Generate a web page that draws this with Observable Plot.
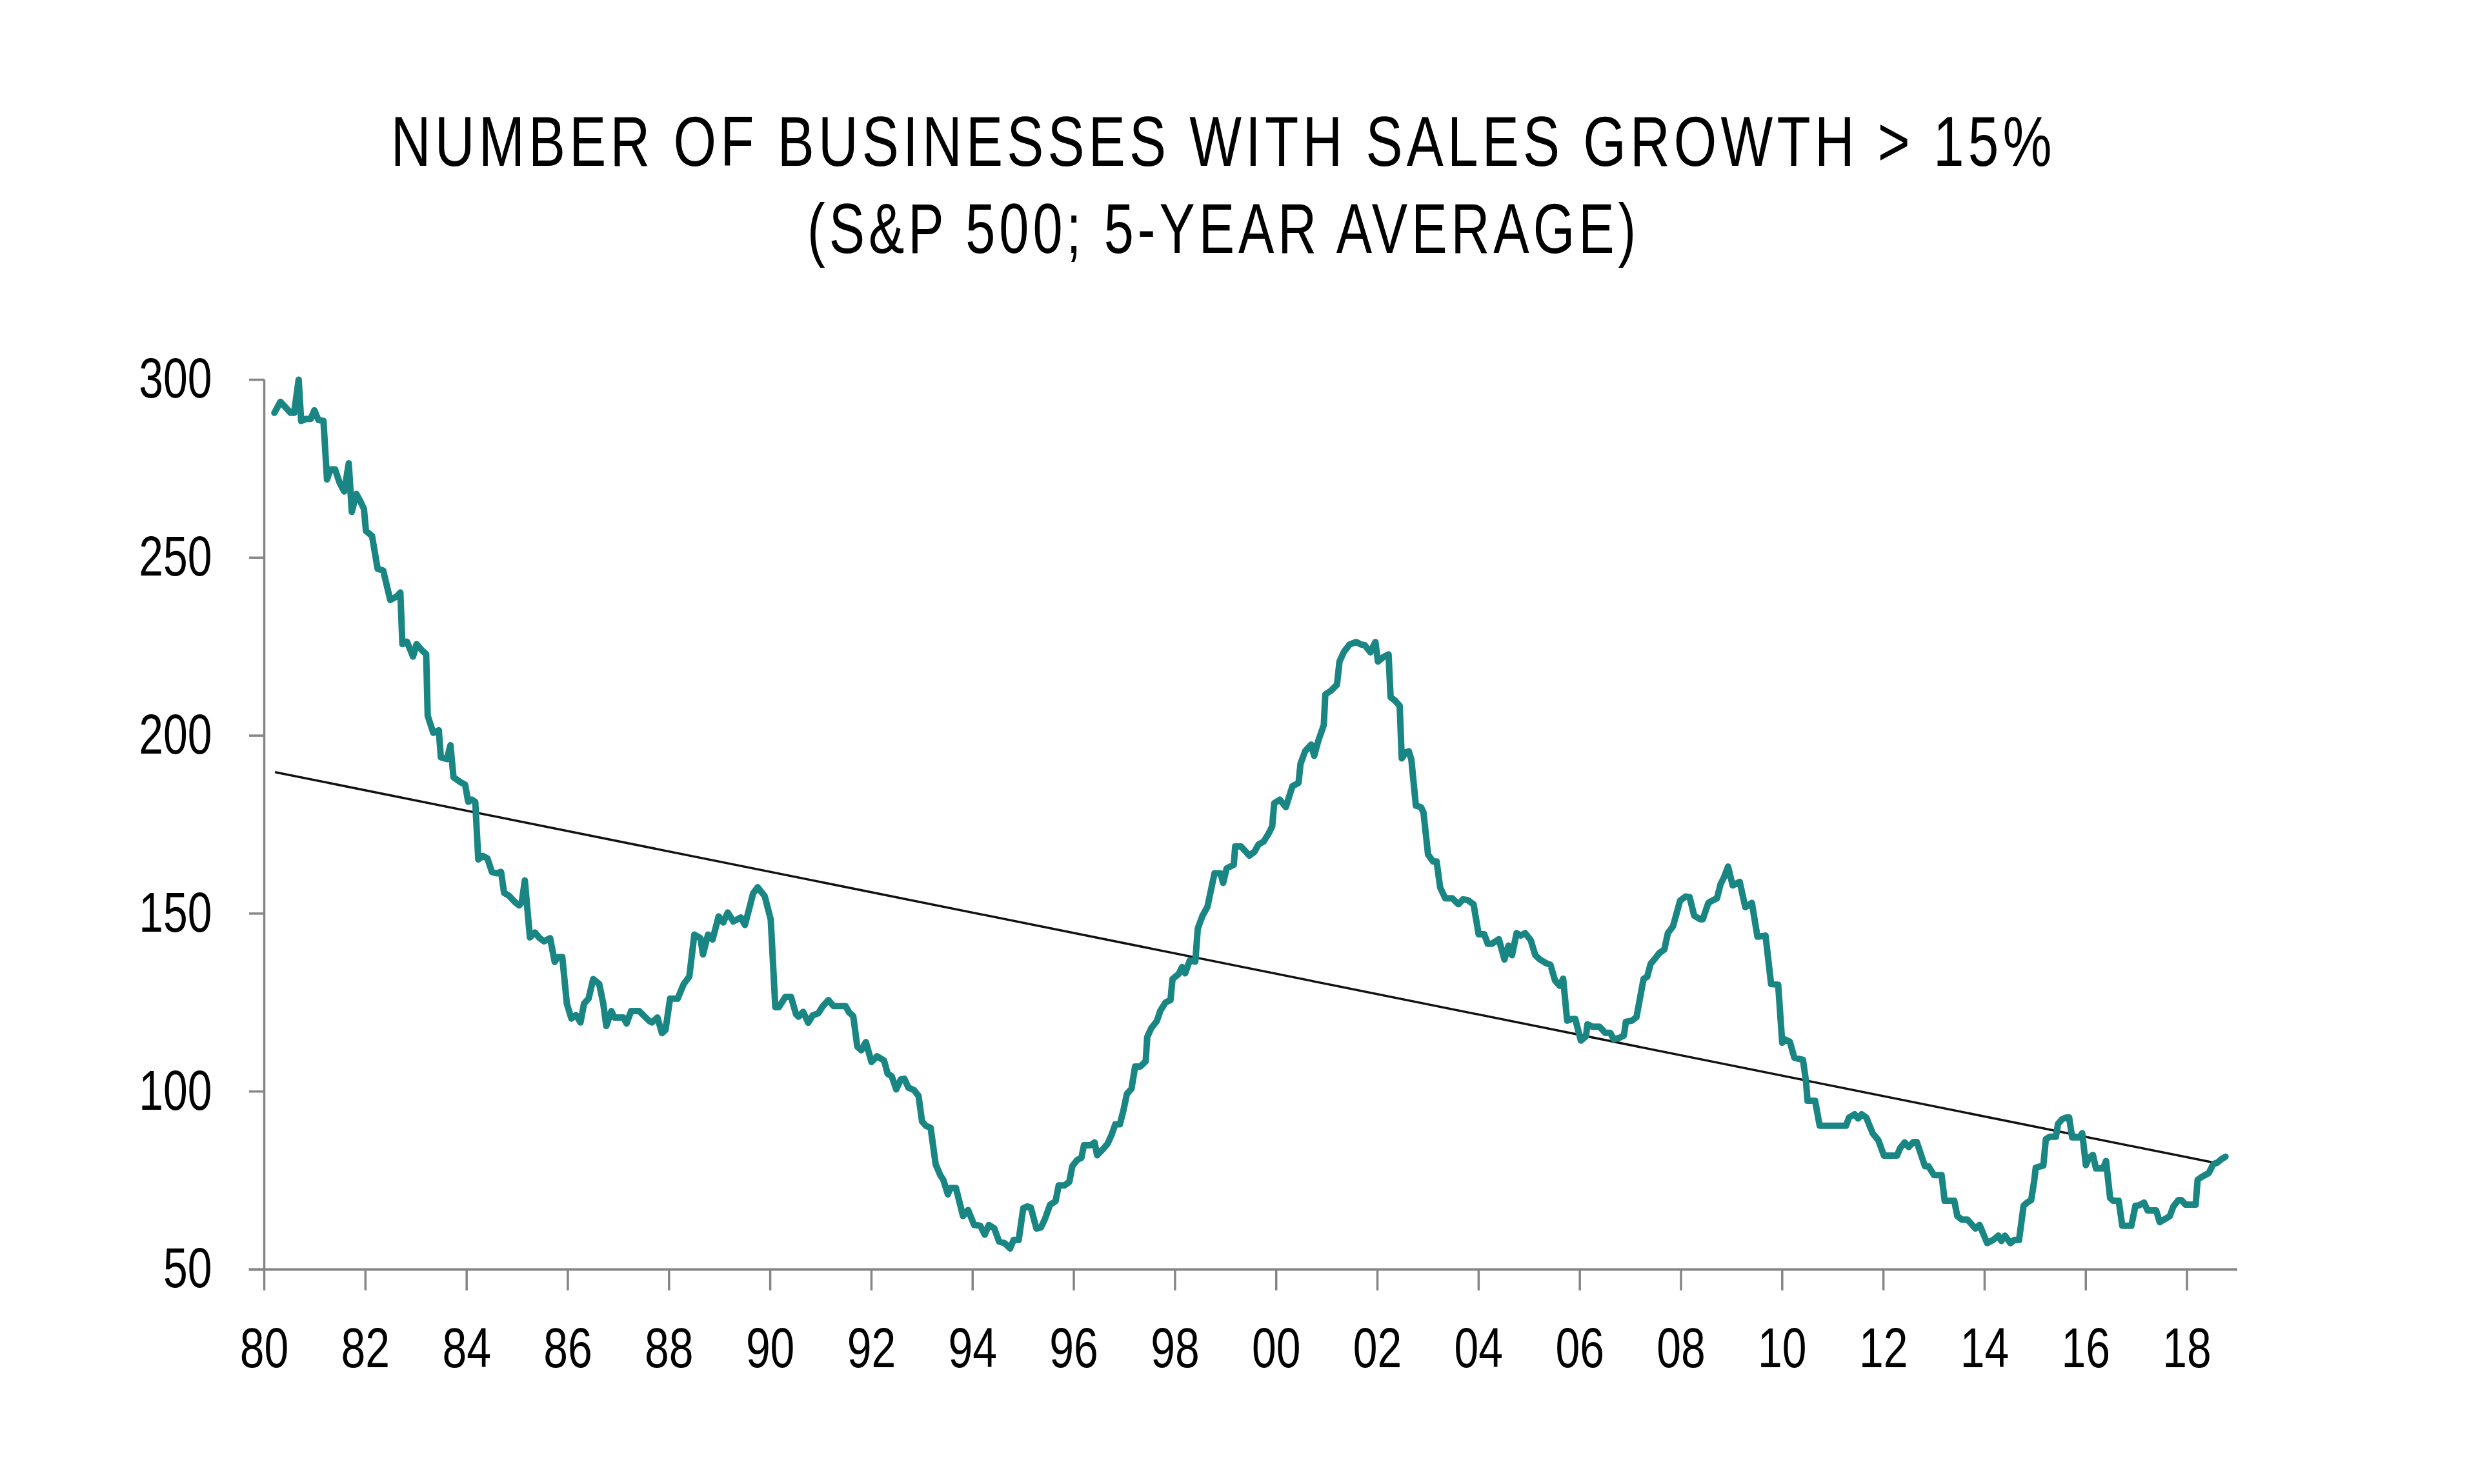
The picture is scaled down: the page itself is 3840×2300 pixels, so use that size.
<!DOCTYPE html>
<html>
<head>
<meta charset="utf-8">
<script src="https://cdn.jsdelivr.net/npm/d3@7"></script>
<script src="https://cdn.jsdelivr.net/npm/@observablehq/plot@0.6"></script>
<style>
  html, body { margin: 0; padding: 0; background: #ffffff; }
  #wrap { position: relative; width: 3840px; height: 420px; }
  .title { position: absolute; left: 0; width: 3792px; text-align: center;
           font-family: "Liberation Sans", Arial, sans-serif; letter-spacing: 8px;
           font-size: 110px; line-height: 110px; color: #000; white-space: nowrap; }
  .title span { display: inline-block; transform-origin: 50% 50%; }
  #t1 { top: 164px; }
  #t2 { top: 299px; }
</style>
</head>
<body>
<div id="wrap">
  <div class="title" id="t1"><span>NUMBER OF BUSINESSES WITH SALES GROWTH &gt; 15%</span></div>
  <div class="title" id="t2"><span>(S&amp;P 500; 5-YEAR AVERAGE)</span></div>
</div>
<div id="chart"></div>
<script>
// Year (decimal) of each observation
const dates = [
  1980.20,1980.32,1980.52,1980.59,1980.68,1980.73,1980.83,1980.92,1980.99,1981.07,
  1981.17,1981.24,1981.31,1981.40,1981.49,1981.58,1981.67,1981.73,1981.82,1981.89,
  1981.97,1982.01,1982.13,1982.24,1982.35,1982.49,1982.62,1982.69,1982.73,1982.82,
  1982.94,1983.01,1983.12,1983.20,1983.23,1983.34,1983.45,1983.49,1983.61,1983.68,
  1983.74,1983.88,1983.97,1984.03,1984.10,1984.17,1984.23,1984.32,1984.41,1984.50,
  1984.59,1984.68,1984.74,1984.83,1984.95,1985.04,1985.09,1985.15,1985.25,1985.35,
  1985.44,1985.53,1985.65,1985.74,1985.80,1985.89,1985.98,1986.07,1986.16,1986.25,
  1986.32,1986.41,1986.50,1986.62,1986.70,1986.76,1986.86,1986.92,1987.10,1987.16,
  1987.25,1987.41,1987.61,1987.66,1987.77,1987.86,1987.93,1988.02,1988.17,1988.29,
  1988.40,1988.50,1988.62,1988.67,1988.77,1988.86,1988.98,1989.07,1989.16,1989.27,
  1989.42,1989.50,1989.59,1989.66,1989.75,1989.89,1990.01,1990.10,1990.17,1990.30,
  1990.41,1990.51,1990.56,1990.65,1990.75,1990.84,1990.95,1991.04,1991.15,1991.25,
  1991.49,1991.56,1991.64,1991.72,1991.80,1991.89,1992.00,1992.11,1992.25,1992.32,
  1992.40,1992.49,1992.58,1992.65,1992.73,1992.84,1992.93,1993.00,1993.08,1993.17,
  1993.27,1993.36,1993.42,1993.51,1993.56,1993.67,1993.81,1993.91,1994.03,1994.15,
  1994.24,1994.32,1994.43,1994.52,1994.63,1994.74,1994.81,1994.91,1995.00,1995.08,
  1995.15,1995.26,1995.35,1995.43,1995.53,1995.64,1995.70,1995.81,1995.91,1995.97,
  1996.06,1996.15,1996.20,1996.33,1996.41,1996.46,1996.57,1996.67,1996.75,1996.82,
  1996.91,1996.98,1997.05,1997.14,1997.21,1997.31,1997.42,1997.45,1997.53,1997.64,
  1997.71,1997.81,1997.91,1997.95,1998.07,1998.14,1998.20,1998.29,1998.40,1998.45,
  1998.54,1998.64,1998.78,1998.90,1998.95,1999.02,1999.16,1999.19,1999.30,1999.47,
  1999.57,1999.65,1999.75,1999.85,1999.92,1999.96,2000.07,2000.19,2000.32,2000.44,
  2000.48,2000.57,2000.69,2000.75,2000.83,2000.94,2000.97,2001.08,2001.20,2001.25,
  2001.34,2001.45,2001.58,2001.68,2001.75,2001.86,2001.96,2002.01,2002.12,2002.22,
  2002.26,2002.35,2002.44,2002.48,2002.56,2002.62,2002.67,2002.76,2002.86,2002.91,
  2003.00,2003.10,2003.17,2003.24,2003.34,2003.48,2003.60,2003.69,2003.78,2003.90,
  2004.00,2004.11,2004.18,2004.26,2004.40,2004.51,2004.59,2004.66,2004.75,2004.83,
  2004.92,2005.03,2005.12,2005.21,2005.33,2005.42,2005.51,2005.60,2005.67,2005.75,
  2005.84,2005.91,2006.02,2006.12,2006.15,2006.25,2006.39,2006.50,2006.60,2006.67,
  2006.77,2006.87,2006.91,2007.03,2007.12,2007.19,2007.26,2007.33,2007.40,2007.50,
  2007.57,2007.67,2007.74,2007.84,2007.91,2007.98,2008.09,2008.17,2008.26,2008.38,
  2008.43,2008.54,2008.64,2008.71,2008.78,2008.85,2008.93,2009.02,2009.16,2009.27,
  2009.40,2009.51,2009.67,2009.78,2009.92,2010.00,2010.06,2010.15,2010.24,2010.41,
  2010.47,2010.50,2010.65,2010.74,2011.26,2011.32,2011.43,2011.50,2011.57,2011.66,
  2011.79,2011.90,2012.01,2012.27,2012.33,2012.42,2012.50,2012.59,2012.66,2012.82,
  2012.89,2013.00,2013.15,2013.21,2013.40,2013.46,2013.55,2013.66,2013.82,2013.90,
  2014.05,2014.17,2014.27,2014.33,2014.40,2014.51,2014.59,2014.68,2014.77,2014.84,
  2014.92,2014.98,2015.01,2015.16,2015.21,2015.29,2015.41,2015.45,2015.53,2015.61,
  2015.67,2015.73,2015.87,2015.93,2016.00,2016.06,2016.14,2016.20,2016.34,2016.40,
  2016.48,2016.54,2016.65,2016.72,2016.90,2016.98,2017.05,2017.15,2017.22,2017.39,
  2017.46,2017.57,2017.66,2017.73,2017.83,2017.89,2017.97,2018.17,2018.21,2018.30,
  2018.43,2018.52,2018.61,2018.67,2018.76
];

// Number of businesses with sales growth > 15% (S&P 500, 5-year average)
const counts = [
  290.7,293.8,290.7,290.7,300.0,288.4,289.0,289.0,291.4,288.7,
  288.4,272.0,274.8,274.8,271.0,268.6,276.5,262.9,267.9,266.1,
  263.7,257.5,256.1,246.9,246.4,238.1,239.1,240.2,225.7,226.4,
  222.2,225.7,223.9,222.9,205.6,200.8,201.5,193.9,193.4,197.3,
  188.3,186.9,186.2,181.4,182.0,181.4,165.2,166.2,165.5,161.7,
  161.3,161.7,155.8,155.1,153.3,152.3,153.3,159.3,143.3,144.7,
  143.1,142.2,143.1,136.4,137.8,137.8,124.7,120.5,121.5,119.4,
  124.7,126.1,131.6,130.2,124.7,118.4,122.6,120.8,120.8,119.1,
  122.6,122.6,119.8,119.4,120.8,116.4,117.3,126.1,126.1,130.2,
  132.3,144.1,143.1,138.5,144.1,142.7,149.2,147.5,150.3,147.8,
  148.9,146.8,151.7,155.6,157.4,154.9,148.3,123.7,123.7,126.6,
  126.6,121.7,121.0,122.4,119.3,121.4,122.0,124.0,125.7,124.0,
  124.0,122.2,121.2,112.6,111.6,113.9,108.3,109.9,108.7,105.0,
  104.3,100.6,103.4,103.6,101.1,100.4,98.8,91.6,90.3,89.8,
  79.5,76.5,75.2,71.1,72.9,72.9,65.0,66.7,62.5,62.3,
  59.8,62.5,61.5,57.9,57.4,55.9,58.3,58.3,67.2,67.7,
  67.4,61.5,61.8,64.2,68.2,69.2,73.6,73.6,74.6,79.0,
  80.7,81.4,84.9,84.9,85.7,82.1,83.7,85.4,88.0,90.8,
  90.8,94.7,99.4,100.8,107.0,107.0,108.5,115.3,117.8,119.8,
  122.7,125.0,125.7,131.6,133.0,135.0,133.2,136.8,136.5,145.8,
  149.3,151.9,161.3,161.3,158.6,162.7,163.7,168.9,168.9,166.3,
  167.4,169.4,170.2,172.5,174.5,181.0,182.0,179.9,185.8,186.7,
  192.1,195.6,197.5,194.3,198.5,203.0,211.6,212.6,214.3,220.8,
  223.6,225.6,226.3,225.6,225.4,223.4,226.3,220.8,222.1,222.8,
  210.8,209.8,208.4,193.6,195.3,195.6,193.3,180.3,179.9,178.4,
  166.6,164.6,164.6,157.3,154.3,154.3,152.6,154.0,153.8,152.6,
  144.2,144.2,141.5,141.5,142.8,137.1,141.0,138.3,144.5,143.8,
  144.5,142.5,138.3,137.1,136.1,135.6,131.2,129.7,131.7,119.9,
  120.4,120.4,114.3,115.5,118.9,118.2,118.2,116.5,116.5,114.7,
  115.0,115.7,119.6,119.9,120.9,126.3,131.7,132.2,135.9,137.6,
  138.9,139.9,144.5,146.4,149.9,153.6,154.8,154.6,149.4,148.4,
  148.4,153.0,153.8,154.3,158.2,160.2,163.2,157.9,158.9,151.8,
  153.0,143.5,143.8,130.2,130.0,113.7,114.6,114.0,109.5,108.9,
  102.8,97.4,97.4,90.4,90.4,92.7,93.6,92.4,93.6,92.7,
  88.2,86.3,82.0,82.0,84.1,85.7,84.4,85.8,85.8,79.0,
  79.0,76.5,76.5,69.3,69.3,65.0,64.0,64.0,61.5,62.5,
  57.4,58.3,59.5,58.0,59.5,57.4,58.3,58.3,67.9,68.8,
  69.5,74.9,78.6,79.2,86.6,87.3,87.3,90.9,92.2,92.7,
  92.7,87.1,87.1,88.3,79.3,81.3,82.2,78.4,78.4,80.5,
  70.1,69.3,69.3,62.3,62.3,67.9,68.0,68.8,66.6,66.6,
  63.3,64.2,65.0,67.7,69.5,69.5,68.2,68.2,75.2,76.1,
  77.1,79.6,80.1,80.9,81.7
];

// Linear trend line end points
const trendYears = [1980.23, 2018.57];
const trendValues = [189.7, 79.9];

// Axis ticks
const xTicks = [1980,1982,1984,1986,1988,1990,1992,1994,1996,1998,2000,2002,2004,2006,2008,2010,2012,2014,2016,2018];
const xTickLabels = ["80","82","84","86","88","90","92","94","96","98","00","02","04","06","08","10","12","14","16","18"];
const yTicks = [50, 100, 150, 200, 250, 300];
const xAxisLineExtent = [1979.70, 2019.0]; // the baseline runs a little left of the y axis

const series = dates.map((d, i) => ({year: d, value: counts[i]}));
const trend = trendYears.map((d, i) => ({year: d, value: trendValues[i]}));
const axisGray = "#858585";
const font = '"Liberation Sans", Arial, sans-serif';
const condense = 0.78; // horizontal squeeze to mimic a condensed face

const chart = Plot.plot({
  width: 3840,
  height: 1880,
  marginTop: 168,
  marginBottom: 333,
  marginLeft: 409,
  marginRight: 373,
  style: {fontFamily: font, fontSize: "87px", color: "#000", background: "#fff", overflow: "visible"},
  x: {type: "linear", domain: [xTicks[0], xAxisLineExtent[1]]},
  y: {type: "linear", domain: [yTicks[0], yTicks[yTicks.length - 1]]},
  marks: [
    Plot.ruleY([yTicks[0]], {x1: xAxisLineExtent[0], x2: xAxisLineExtent[1], stroke: axisGray, strokeWidth: 4}),
    Plot.ruleX([xTicks[0]], {y1: yTicks[0], y2: yTicks[yTicks.length - 1], stroke: axisGray, strokeWidth: 3.5}),
    Plot.axisX({
      ticks: xTicks,
      tickFormat: d => xTickLabels[xTicks.indexOf(d)],
      tickSize: 33, tickPadding: 57,
      stroke: axisGray, strokeWidth: 3.5, fill: "#000", label: null
    }),
    Plot.axisY({
      ticks: yTicks,
      tickFormat: d => String(d),
      tickSize: 23, tickPadding: 58,
      stroke: axisGray, strokeWidth: 3.5, fill: "#000", label: null
    }),
    Plot.line(trend, {x: "year", y: "value", stroke: "#111", strokeWidth: 3.5}),
    Plot.line(series, {x: "year", y: "value", stroke: "#1a8683", strokeWidth: 10, strokeLinejoin: "round", strokeLinecap: "round"})
  ]
});
document.getElementById("chart").appendChild(chart);

// Squeeze axis tick labels horizontally around their anchor
chart.querySelectorAll('g[aria-label$="tick label"] text').forEach(t => {
  const tr = t.getAttribute("transform") || "";
  t.setAttribute("transform", tr + ` scale(${condense},1)`);
});

// Fit title lines to their widths in the reference
const titleWidths = {t1: 2580, t2: 1290};
for (const id of Object.keys(titleWidths)) {
  const span = document.querySelector(`#${id} span`);
  const w = span.getBoundingClientRect().width;
  span.style.transform = `scaleX(${titleWidths[id] / w})`;
}
</script>
</body>
</html>
